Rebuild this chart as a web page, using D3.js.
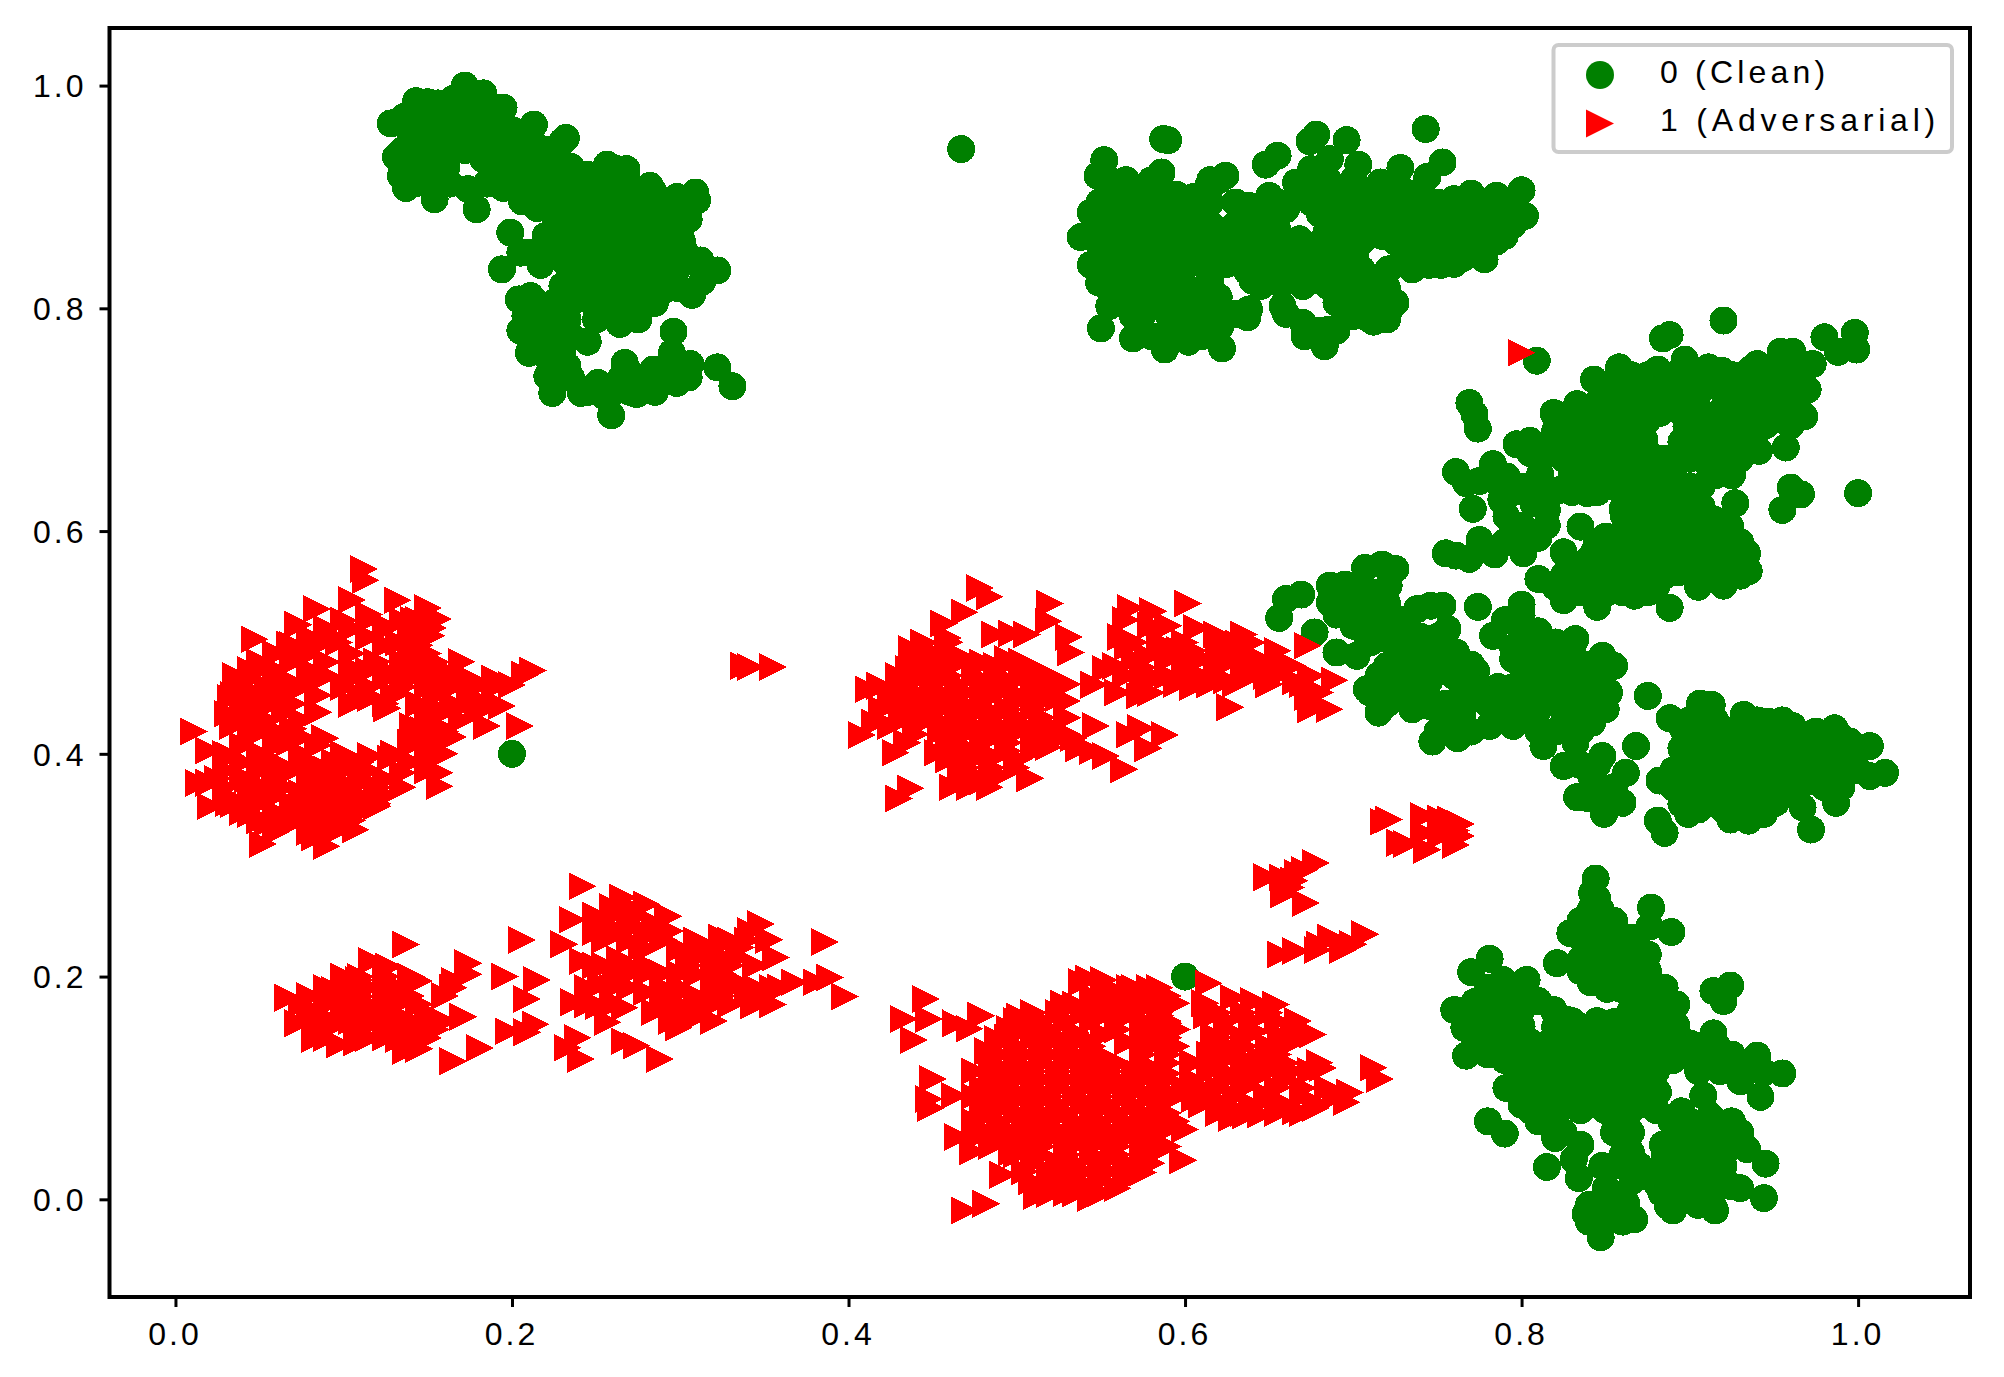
<!DOCTYPE html>
<html><head><meta charset="utf-8">
<script src="https://cdn.jsdelivr.net/npm/d3@7"></script>
<style>html,body{margin:0;padding:0;background:#fff}svg{display:block}</style>
</head><body><svg id="c" width="2004" height="1377"></svg>
<script>
const xTicks=[0,0.2,0.4,0.6,0.8,1.0];
const yTicks=[0,0.2,0.4,0.6,0.8,1.0];
const legendLabels=["0 (Clean)","1 (Adversarial)"];

const cleanTopLeft=[[.128,.966],[.143,.986],[.156,.984],[.172,1.0],[.183,.993],[.195,.980],[.213,.965],[.232,.953],[.230,.950],[.131,.936],[.134,.919],[.137,.908],[.154,.898],[.174,.907],[.179,.889],[.146,.964],[.156,.958],[.165,.972],[.175,.975],[.185,.964],[.199,.955],[.146,.940],[.156,.934],[.163,.949],[.175,.952],[.195,.928],[.205,.949],[.211,.934],[.225,.931],[.183,.934],[.195,.908],[.206,.896],
[.2565,.929],[.268,.923],[.251,.916],[.284,.905],[.298,.9],[.309,.904],[.31,.897],[.300,.877],[.303,.842],[.314,.835],[.322,.834],[.313,.824],[.307,.812],[.289,.815],[.283,.806],[.264,.786],[.199,.868],[.194,.835],[.217,.839],[.233,.907],
[.241,.902],[.262,.898],[.281,.901],[.231,.881],[.252,.878],[.272,.883],[.291,.879],[.222,.861],[.243,.858],[.261,.862],[.283,.857],[.301,.860],[.232,.841],[.252,.838],[.271,.842],[.292,.839],[.312,.843],[.241,.822],[.262,.819],[.281,.823],[.299,.818],[.253,.803],[.272,.799],
[.204,.808],[.211,.811],[.208,.793],[.205,.780],[.211,.767],[.219,.759],[.233,.790],[.245,.77],[.233,.748],[.221,.739],[.224,.724],[.241,.724],[.251,.733],[.259,.704],[.267,.751],[.274,.723],[.284,.745],[.298,.733],[.296,.779],[.295,.760],[.306,.75],[.322,.747],[.331,.73],[.255,.721],[.222,.785],[.225,.768]];
const cleanTopMiddle=[[.467,.943],[.538,.864],[.552,.933],[.548,.919],[.544,.886],[.549,.895],[.544,.839],[.549,.823],[.555,.802],[.550,.782],[.569,.773],[.588,.763],[.602,.770],[.622,.764],[.638,.799],[.637,.792],[.587,.952],[.590,.951],[.586,.922],[.595,.902],[.614,.911],[.624,.919],[.572,.908],[.638,.892],[.650,.901],[.648,.929],[.655,.937],[.678,.956],[.674,.95],[.696,.951],[.703,.929],[.675,.925],[.666,.913],[.686,.934],[.716,.913],[.728,.926],[.743,.961],[.753,.931],[.744,.918],[.719,.883],[.717,.865],[.700,.883],[.734,.892],[.751,.890],[.760,.898],[.770,.903],[.785,.901],[.800,.906],[.802,.883],[.790,.865],[.778,.844],[.745,.839],[.752,.839],[.734,.850],[.744,.868],[.764,.874],[.779,.877],[.754,.856],[.769,.862],[.742,.883],
[.701,.848],[.721,.835],[.720,.818],[.722,.800],[.712,.788],[.700,.793],[.690,.805],[.704,.817],[.692,.820],[.710,.826],[.683,.766],[.671,.775],[.686,.781],[.658,.802],[.670,.787],[.670,.820],[.653,.824],[.637,.833],[.678,.829],[.668,.847],[.645,.847],[.654,.862],[.668,.862],[.684,.868],[.645,.874],[.631,.862],
[.615,.826],[.614,.796],[.621,.784],[.601,.793],[.585,.802],[.569,.793],[.595,.823],[.575,.826],[.561,.826],[.585,.847],[.561,.847],[.573,.868],[.560,.874],[.556,.862],[.589,.868],[.605,.862],[.621,.868],[.569,.889],[.585,.892],[.609,.889],[.660,.889],[.675,.895],[.690,.900],[.809,.753]];
const cleanUpperRight=[[.884,.773],[.888,.776],[.920,.789],[.998,.778],[.980,.774],[.999,.763],[.988,.761],[.954,.761],[.961,.761],[.973,.750],[.970,.727],[.968,.703],[.936,.745],[.919,.744],[.911,.747],[.897,.754],[.881,.745],[.858,.747],[.858,.742],[.843,.736],[.833,.714],[.819,.706],[.769,.715],[.772,.705],[.774,.692],[.797,.678],[.805,.681],[.761,.653],[.767,.643],[.783,.660],[.791,.649],[.771,.620],[.788,.628],[.791,.613],[.807,.625],[.815,.619],[.811,.651],[.775,.592],[.755,.580],[.761,.578],[.769,.575],[.784,.579],[.801,.580],[.810,.594],[.835,.604],[.810,.557],[.825,.538],[.845,.532],[.867,.542],[.874,.554],[.888,.531],[.893,.563],[.910,.558],[.920,.551],[.935,.564],[.934,.580],[.924,.604],[.927,.625],[.907,.640],[.907,.622],[.924,.652],[.941,.672],[.957,.675],[.960,.639],[.966,.633],[.955,.619],[1.0,.634],
[.829,.688],[.847,.685],[.863,.682],[.873,.682],[.833,.664],[.849,.664],[.863,.658],[.823,.673],[.823,.637],[.839,.634],[.882,.658],[.888,.637],[.878,.628],[.861,.613],[.878,.610],[.892,.616],[.906,.595],[.859,.592],[.843,.581],[.825,.581],[.835,.560],[.851,.556],[.863,.574],[.878,.574],[.894,.581],[.914,.574],[.904,.571],[.851,.545],[.835,.545],[.878,.592],[.890,.593],
[.882,.706],[.898,.718],[.910,.730],[.928,.724],[.942,.730],[.958,.739],[.964,.718],[.954,.703],[.938,.703],[.918,.703],[.898,.694],[.908,.679],[.928,.679],[.908,.664],[.859,.718],[.871,.727],[.847,.718],[.874,.712],[.882,.736],[.938,.682],[.952,.718],[.828,.700],[.840,.705]];
const cleanMiddleRight=[[.656,.522],[.660,.539],[.669,.543],[.686,.551],[.695,.552],[.707,.567],[.717,.570],[.725,.566],[.721,.551],[.686,.536],[.705,.545],[.710,.530],[.677,.509],[.690,.491],[.707,.509],[.720,.503],[.702,.488],[.708,.458],[.715,.437],[.728,.452],[.720,.479],[.720,.464],
[.738,.530],[.746,.533],[.753,.533],[.756,.512],[.774,.532],[.800,.534],[.800,.524],[.783,.506],[.805,.509],[.747,.494],[.761,.491],[.773,.474],[.786,.460],[.747,.473],[.745,.443],[.747,.411],[.762,.414],[.755,.431],[.765,.458],[.781,.425],[.795,.425],[.800,.440],
[.795,.485],[.805,.473],[.815,.488],[.832,.503],[.820,.476],[.830,.482],[.807,.497],[.848,.488],[.855,.479],[.848,.474],[.852,.455],[.842,.428],[.832,.449],[.820,.449],[.807,.434],[.815,.419],[.813,.407],[.832,.410],[.825,.428],
[.875,.452],[.868,.407],[.825,.389],[.848,.398],[.862,.383],[.833,.361],[.849,.346],[.860,.356],[.842,.377],[.882,.376],[.881,.340],[.885,.329],[.899,.346],[.924,.341],[.944,.346],[.951,.356],[.888,.432],[.896,.422],[.906,.445],[.913,.444],[.932,.435],[.934,.425],[.946,.429],[.961,.425],[.972,.417],[.986,.423],[.995,.411],[1.007,.407],[1.016,.383],[1.007,.380],[.977,.377],[.960,.392],[.995,.386],[.987,.356],[.967,.352],[.972,.332],[.900,.392],[.910,.413],[.915,.380],[.932,.392],[.945,.398],[.932,.368],[.950,.368],[.902,.365],[.915,.359],[.917,.425],[.927,.407],[.970,.404]];
const cleanBottomRight=[[.6,.2],[.2,.4],[.844,.288],[.842,.275],[.841,.260],[.838,.250],[.829,.239],[.847,.260],[.847,.245],[.877,.262],[.876,.245],[.889,.240],[.781,.216],[.770,.204],[.821,.212],[.803,.197],[.772,.177],[.760,.170],[.766,.154],[.767,.129],[.775,.141],[.789,.197],[.791,.177],[.872,.220],[.864,.226],[.855,.227],[.839,.221],[.855,.205],[.841,.195],[.851,.189],[.859,.189],[.876,.185],[.892,.175],[.892,.156],[.914,.187],[.924,.192],[.920,.178],[.914,.149],[.916,.138],[.940,.129],[.918,.115],[.930,.106],[.942,.092],[.955,.113],[.944,.114],[.900,.129],[.780,.070],[.790,.059],[.815,.029],[.825,.060],[.835,.049],[.834,.019],[.831,.036],[.848,.030],[.865,.042],[.866,.017],[.838,-.013],[.847,-.034],[.851,-.009],[.867,-.018],[.862,-.003],[.853,.006],
[.791,.100],[.804,.091],[.813,.076],[.791,.126],[.805,.141],[.805,.120],[.817,.108],[.795,.150],[.819,.170],[.817,.141],[.829,.135],[.827,.161],[.841,.155],[.855,.159],[.868,.165],[.880,.156],[.872,.138],[.857,.138],[.843,.129],[.857,.117],[.872,.114],[.884,.138],[.881,.096],[.866,.082],[.835,.094],[.849,.102],[.855,.084],[.856,.066],[.864,.096],
[.908,.093],[.895,.079],[.920,.067],[.912,.075],[.889,.070],[.884,.049],[.934,.045],[.945,.032],[.944,.001],[.914,-.007],[.899,.002],[.887,-.006],[.883,.006],[.894,.042],[.910,.045],[.918,.021],[.902,.021],[.888,.024],[.906,.006],[.924,.012],[.914,.057],[.900,.060],[.872,.021]];

const cleanDenseRows=[
[.988,[.165]],[.985,[.150,.178]],[.972,[.136,.150,.162,.178,.192]],[.955,[.14,.152,.167,.181,.193,.208]],[.942,[.135,.172,.187,.222]],[.927,[.14,.148,.161,.204,.218,.235]],[.912,[.142,.15,.163,.185,.205,.215,.222]],
[.925,[.256,.262,.268]],[.91,[.24,.245,.258,.27,.282]],[.895,[.23,.235,.248,.26,.272,.285,.297]],[.88,[.228,.242,.255,.268,.282,.295,.305]],[.865,[.22,.225,.238,.25,.262,.275,.288,.3]],[.85,[.205,.21,.228,.24,.252,.265,.278,.29,.303]],[.835,[.235,.248,.26,.272,.285,.298]],[.82,[.23,.242,.255,.268,.28,.293]],[.805,[.215,.225,.235,.248,.26,.272,.285]],[.79,[.215,.228,.25,.262,.275]],[.775,[.215,.228,.235]],[.76,[.21,.225,.23]],
[.738,[.235,.265,.275,.29,.298,.305]],[.725,[.245,.26,.27,.285]],
[.90,[.562,.575,.59,.605]],[.885,[.552,.565,.578,.592,.605,.645,.655,.68,.69,.705,.745,.765,.775,.785,.795]],[.87,[.545,.558,.572,.585,.598,.61,.625,.64,.655,.69,.705,.755]],[.855,[.55,.562,.575,.59,.605,.62,.635,.65,.665,.68,.745,.76,.775]],[.84,[.555,.568,.58,.595,.61,.625,.64,.655,.67,.76]],[.825,[.56,.572,.585,.597,.615,.64,.66,.675,.70]],[.81,[.56,.572,.585,.597,.61,.62,.70,.71]],[.795,[.575,.59,.605,.615,.63,.66,.695,.705,.715]],[.78,[.575,.59,.605,.615,.68,.69]],[.915,[.685,.70]],[.905,[.67,.68,.70,.71,.72,.73,.74]],
[.74,[.865,.875,.89,.905,.925,.95,.965]],[.725,[.85,.862,.885,.9,.92,.935,.955,.96]],[.71,[.84,.855,.865,.878,.89,.905,.92,.93,.945,.958]],[.695,[.825,.835,.86,.87,.9,.915,.93,.945,.96]],[.68,[.82,.835,.855,.865,.895,.91,.92,.935]],[.665,[.81,.825,.84,.855,.865,.885,.9,.915,.93]],[.65,[.83,.845,.86,.87,.885,.915,.925]],[.635,[.795,.815,.83,.845,.86,.875,.895]],[.645,[.775,.785]],[.62,[.86,.875,.89]],[.605,[.80,.815,.865,.88,.895,.91]],[.59,[.79,.80,.845,.86,.875,.89,.915,.93]],[.575,[.84,.85,.87,.885,.9,.92,.93]],[.56,[.825,.84,.86,.875,.885,.905,.93]],[.545,[.825,.845,.86,.875]],
[.535,[.70,.72]],[.525,[.69,.71]],[.515,[.70]],[.50,[.71,.735,.815,.82]],[.485,[.725,.74]],[.47,[.715,.73,.76,.815,.83]],[.455,[.71,.82,.84]],[.445,[.72,.755,.78,.84]],[.43,[.76,.765,.79,.80,.83]],[.42,[.75,.81,.835]],[.51,[.80,.81]],[.39,[.835,.845]],[.37,[.855]],[.36,[.84,.85]],
[.43,[.90,.915,.94,.955]],[.415,[.90,.92,.935,.95,.965,.98,.99]],[.40,[.905,.92,.935,.95,.96,.975,.985,.99]],[.385,[.89,.905,.92,.94,.955,.97,.985,1.0]],[.37,[.89,.905,.92,.94,.96,.98,.99]],[.355,[.895,.91,.925,.94]],[.34,[.935]],
[.27,[.845]],[.25,[.835,.845,.855]],[.235,[.835,.85,.865]],[.22,[.845,.875]],[.205,[.835,.85,.865,.875]],[.19,[.78,.79,.865,.885]],[.178,[.78,.80,.81,.87,.885]],[.16,[.775,.785,.83,.845,.86,.875,.89]],[.145,[.78,.795,.83,.845,.865,.88,.89]],[.13,[.78,.80,.815,.83,.85,.865,.88,.895,.91,.925]],[.115,[.80,.815,.83,.85,.865,.88,.905,.93]],[.10,[.80,.815,.83,.855,.87]],[.085,[.80,.815,.825,.845,.86,.875]],[.07,[.81,.82,.86,.90,.91,.925]],[.055,[.82,.86,.89,.905,.925]],[.04,[.86,.885,.90,.92]],[.025,[.895,.91]],[.01,[.89,.915,.93,.85]],[-.005,[.905,.84]],[-.02,[.84,.85,.86]],
[.98,[.17,.19]],[.96,[.16,.175,.2]],[.945,[.145,.16,.178,.2,.215]],[.92,[.19,.21,.225,.235,.245]],[.905,[.22,.225,.235]],[.89,[.215,.22]],
[.915,[.555,.565,.58,.615,.62]],[.895,[.60,.615,.63,.655,.72,.735,.75,.765,.775,.79]],[.875,[.615,.63,.65,.695,.71,.725,.735,.75,.77,.785,.795]],[.86,[.69,.705,.725,.75,.765,.785]],[.845,[.685,.73,.765]],[.835,[.69,.705,.735,.655,.665]],[.82,[.60,.645,.685,.71,.715]],[.805,[.715,.725]],[.79,[.71,.72]],[.775,[.58,.60,.61]],
[.75,[.96,.94]],[.74,[.92,.94,.95,.96]],[.73,[.87,.895,.91,.93,.945]],[.715,[.845,.86,.87,.895,.935,.95]],[.70,[.83,.855,.875,.905,.925,.94,.955]],[.69,[.82,.84,.855,.905,.92,.935]],[.67,[.805,.82,.83,.845,.86,.875,.905,.92]],[.655,[.84,.855,.865,.89,.92]],[.64,[.80,.84,.855,.87,.885,.90]],[.625,[.87,.885,.90]],[.61,[.87,.885,.90,.915]],[.595,[.85,.865,.885,.90,.925]],[.58,[.845,.86,.87,.89,.905,.925]],[.565,[.83,.845,.855,.87,.88,.895,.915,.925]],[.55,[.82,.835,.85,.87,.88,.905]],
[.545,[.70,.715]],[.53,[.695,.70,.715]],[.52,[.70,.72,.73,.795,.79]],[.505,[.73,.74,.75]],[.495,[.73,.75,.735,.795,.82,.83]],[.48,[.735,.76,.77,.80,.81,.84]],[.465,[.735,.745]],[.46,[.795,.80,.81,.825,.845]],[.455,[.735,.775]],[.44,[.735,.765,.79,.80,.81,.825,.85]],[.42,[.755,.77,.82,.905,.925,.955,.975]],
[.405,[.895,.91,.945,.965,.98,1.0]],[.39,[.90,.915,.93,.95,.965,.98,.99]],[.375,[.90,.93,.945,.97]],[.36,[.90,.92,.935,.945]],[.35,[.93,.92,.905]],
[.24,[.84,.855]],[.225,[.84,.85]],[.215,[.835,.85,.86]],[.20,[.84,.855,.87]],[.17,[.775,.79,.80,.865,.88]],[.155,[.785,.80,.82,.835,.85,.87]],[.14,[.785,.80,.825,.84,.85,.87,.885,.90]],[.125,[.79,.81,.825,.84,.87,.89,.92]],[.11,[.81,.825,.84,.86,.875]],[.095,[.81,.825,.84,.865,.875]],[.08,[.805,.82,.835,.85,.865,.88]],[.06,[.855,.865,.90,.915,.93]],[.045,[.89,.905]],[.03,[.86,.87,.885,.90,.92]],[.015,[.88,.90,.92]],[.0,[.91]],[-.01,[.89,.915]]];

const advMiddleLeft=[[.112,.566],[.113,.556],[.105,.538],[.132,.538],[.150,.531],[.156,.521],[.153,.513],[.152,.506],[.084,.530],[.073,.516],[.047,.503],[.068,.498],[.094,.505],[.133,.500],[.045,.475],[.036,.470],[.0715,.487],[.0905,.470],[.107,.476],[.135,.476],[.116,.450],[.126,.441],[.168,.468],[.181,.462],[.2,.462],[.208,.471],[.2125,.475],[.175,.446],[.194,.443],[.185,.425],[.205,.425],[.011,.420],[.031,.436],[.033,.450],[.034,.425],[.089,.414],[.140,.410],[.153,.407],[.157,.383],[.157,.371],[.116,.398],[.128,.396],[.135,.383],[.103,.392],[.020,.403],[.014,.374],[.020,.374],[.021,.353],[.052,.319],[.074,.341],[.083,.325],[.090,.317],[.107,.332],[.120,.353],[.109,.362],[.032,.356],[.041,.353],[.045,.346],[.055,.338],[.033,.398],[.043,.377],[.053,.398],[.062,.419],[.046,.427],[.059,.446],[.043,.452],[.071,.458],[.061,.470],[.068,.410],[.076,.392],[.090,.386],[.059,.386],[.075,.365],[.055,.368],[.084,.359],[.094,.371],[.072,.344],[.100,.353],[.085,.344],[.141,.425],[.148,.421],[.160,.420],[.105,.512],[.097,.500],[.115,.525],[.125,.515],[.142,.520],[.146,.478],[.156,.460],[.338,.479],[.342,.478],[.355,.478]];
const advMiddleCenter=[[.478,.549],[.484,.541],[.469,.527],[.457,.517],[.520,.535],[.519,.519],[.487,.507],[.497,.508],[.506,.507],[.531,.505],[.532,.491],[.438,.494],[.450,.491],[.459,.504],[.436,.476],[.412,.458],[.419,.461],[.432,.462],[.466,.482],[.480,.482],[.488,.479],[.503,.483],[.527,.462],[.525,.450],[.408,.417],[.416,.428],[.428,.401],[.453,.401],[.471,.405],[.501,.420],[.501,.395],[.508,.378],[.467,.380],[.462,.370],[.472,.370],[.484,.370],[.430,.360],[.437,.369],[.519,.406],[.522,.414],[.534,.414],[.537,.405],[.547,.425],[.553,.398],[.564,.386],[.567,.417],[.574,.423],[.588,.417],[.578,.405],[.459,.451],[.445,.448],[.432,.432],[.465,.435],[.484,.460],[.500,.454],[.512,.466],[.488,.436],[.445,.429],[.455,.420],[.473,.420],[.484,.417],[.439,.448],[.455,.476],
[.568,.531],[.581,.528],[.602,.535],[.565,.520],[.562,.505],[.566,.496],[.607,.513],[.619,.507],[.635,.507],[.632,.499],[.597,.493],[.553,.476],[.559,.479],[.546,.462],[.573,.452],[.600,.473],[.605,.460],[.625,.466],[.627,.442],[.645,.476],[.649,.470],[.664,.479],[.673,.497],[.673,.451],[.666,.465],[.689,.466],[.686,.440],[.679,.445],[.578,.488],[.602,.488],[.619,.479],[.637,.482],
[.649,.289],[.658,.289],[.667,.293],[.671,.296],[.678,.302],[.665,.286],[.663,.280],[.659,.274],[.672,.266],[.657,.220],[.666,.223],[.679,.224],[.680,.229],[.687,.235],[.694,.224],[.700,.229],[.707,.238],[.718,.339],[.721,.341],[.728,.320],[.732,.319],[.742,.344],[.752,.342],[.758,.341],[.764,.337],[.764,.326],[.761,.331],[.744,.314],[.761,.318],[.752,.326],[.742,.329],[.8,.76]];
const advBottomLeft=[[.137,.229],[.117,.214],[.127,.209],[.100,.200],[.109,.197],[.095,.188],[.067,.181],[.073,.158],[.083,.144],[.086,.166],[.098,.139],[.108,.141],[.133,.144],[.137,.133],[.145,.135],[.165,.124],[.181,.136],[.145,.196],[.166,.196],[.174,.212],[.174,.202],[.196,.200],[.171,.164],[.198,.151],[.209,.150],[.214,.157],[.209,.180],[.215,.197],[.206,.233],[.242,.281],[.236,.251],[.266,.271],[.280,.265],[.293,.254],[.294,.241],[.231,.229],[.242,.214],[.264,.216],[.262,.202],[.253,.193],[.237,.177],[.252,.174],[.257,.159],[.267,.172],[.233,.136],[.239,.145],[.241,.126],[.267,.142],[.274,.138],[.288,.126],[.280,.186],[.285,.168],[.299,.154],[.309,.163],[.312,.177],[.290,.203],[.310,.202],[.325,.235],[.342,.241],[.348,.247],[.314,.224],[.336,.226],[.357,.217],[.353,.233],[.386,.231],[.344,.174],[.336,.194],[.320,.200],[.368,.195],[.381,.195],[.389,.199],[.398,.182],[.355,.190],[.277,.227],[.272,.245],[.290,.233],[.105,.177],[.117,.171],[.128,.161],[.094,.158],[.114,.156],[.100,.186],[.135,.177],[.126,.195],[.151,.158],[.142,.150]];
const advBottomCenter=[[.446,.180],[.433,.162],[.439,.143],[.448,.162],[.464,.158],[.472,.153],[.479,.165],[.450,.108],[.448,.090],[.449,.082],[.463,.093],[.465,.056],[.474,.043],[.469,-.010],[.482,-.004],[.492,.022],[.509,.016],[.512,.003],[.530,.006],[.544,.001],[.599,.035],[.575,.024],[.551,.027],[.528,.024],[.497,.042],[.483,.133],[.489,.144],[.496,.153],[.502,.164],[.511,.163],[.528,.176],[.539,.195],[.543,.198],[.552,.197],[.567,.190],[.579,.190],[.595,.176],[.545,.176],[.555,.180],[.552,.148],[.566,.141],[.582,.141],[.560,.170],[.572,.170],[.585,.165],[.590,.158],[.491,.117],[.505,.114],[.486,.096],[.480,.081],[.500,.093],[.507,.069],[.526,.108],[.540,.120],[.554,.120],[.573,.113],[.590,.113],[.566,.096],[.546,.084],[.526,.078],[.487,.057],[.510,.048],[.534,.048],[.558,.048],[.584,.048],[.582,.066],[.594,.066],[.592,.090],[.606,.090],[.566,.066],[.546,.060],[.514,.096],[.520,.130],[.515,.145],[.535,.150],[.614,.194],[.612,.176],[.613,.165],[.629,.181],[.641,.178],[.654,.175],[.667,.160],[.676,.148],[.617,.147],[.629,.135],[.645,.126],[.625,.114],[.612,.099],[.649,.114],[.664,.115],[.682,.118],[.649,.090],[.666,.079],[.678,.082],[.696,.087],[.698,.096],[.712,.118],[.716,.108],[.623,.081],[.628,.073],[.636,.075],[.645,.076],[.641,.150],[.657,.143]];

const advDenseRows=[
[.52,[.10,.115,.135,.145]],[.505,[.08,.115,.14]],[.49,[.06,.08,.105,.14,.15]],[.475,[.05,.06,.08,.115,.125,.15,.16]],[.46,[.04,.055,.075,.10,.115,.135,.15,.165,.19]],[.445,[.04,.05,.07,.105,.125,.145,.165,.185]],[.43,[.04,.055,.075,.15,.17]],[.415,[.045,.06,.075,.15,.165]],[.40,[.03,.05,.075,.10,.13,.15,.16]],[.385,[.03,.05,.07,.085,.10,.115,.15]],[.37,[.03,.045,.065,.085,.105,.12,.135]],[.355,[.035,.05,.07,.09,.105,.12]],[.34,[.05,.065,.09,.105]],[.33,[.06,.08,.095]],
[.50,[.46,.445,.57,.585,.60,.625,.64]],[.485,[.44,.455,.47,.495,.57,.59,.61,.625,.645,.655]],[.47,[.43,.445,.46,.475,.49,.505,.52,.565,.58,.59,.61,.64,.655,.675]],[.455,[.425,.44,.455,.47,.49,.51,.52,.56,.58,.68]],[.44,[.42,.44,.455,.47,.48,.495,.51,.675]],[.425,[.425,.44,.46,.475,.49,.505,.52]],[.41,[.435,.46,.48,.495,.51]],[.395,[.46,.475,.485]],[.38,[.475,.49]],[.515,[.58,.59]],
[.19,[.09,.105,.115,.13,.165,.29,.30,.32,.33,.345,.36,.245,.26,.27]],[.175,[.075,.09,.115,.125,.145,.29,.30,.32,.33,.355,.245,.26]],[.16,[.085,.105,.12,.14,.16,.295,.32]],[.145,[.09,.115,.125,.15]],[.21,[.305,.32,.33,.345,.25,.255,.27,.28]],[.225,[.28,.30,.32]],[.24,[.25,.265,.28,.285]],[.255,[.25,.26,.275]],
[.19,[.555,.57,.585]],[.175,[.535,.55,.565,.58,.59]],[.16,[.50,.515,.53,.545,.56,.575,.59,.625,.64,.655]],[.145,[.495,.51,.525,.54,.575,.59,.62,.635,.66,.67]],[.13,[.49,.505,.52,.535,.55,.575,.59,.615,.63,.655]],[.115,[.475,.495,.51,.525,.54,.555,.57,.585,.615,.635,.65,.675]],[.10,[.48,.495,.51,.525,.54,.555,.57,.585,.60,.62,.635,.655,.67,.685]],[.085,[.48,.495,.51,.525,.54,.555,.57,.585,.61,.625,.64,.66,.68]],[.07,[.475,.49,.505,.52,.535,.55,.565,.58,.595]],[.055,[.475,.49,.505,.52,.535,.55,.565,.58]],[.04,[.50,.515,.53,.545,.56,.575]],[.025,[.505,.52,.54,.555,.565]],[.01,[.515,.53,.545,.56]],
[.5125,[.09,.105,.125,.14,.15]],[.4975,[.07,.085,.125,.145]],[.4825,[.05,.07,.09,.12,.135,.155,.17]],[.4675,[.045,.065,.085,.105,.125,.14,.16,.175,.19]],[.4525,[.035,.05,.065,.085,.11,.13,.155,.175]],[.4375,[.045,.065,.085,.155,.16,.18]],[.4225,[.05,.07,.145,.16]],[.4075,[.04,.06,.085,.14,.155]],[.3925,[.04,.06,.08,.095,.11,.14,.15]],[.3775,[.025,.04,.06,.08,.095,.11,.125]],[.3625,[.03,.045,.06,.08,.095,.11,.125]],[.3475,[.04,.06,.08,.095,.11]],[.335,[.065,.085,.10]],
[.4925,[.445,.46,.585,.605,.62,.635,.655]],[.4775,[.445,.46,.475,.49,.51,.575,.6,.62,.635,.66]],[.4625,[.435,.45,.465,.48,.495,.515,.53,.575,.595,.615,.63,.65,.67]],[.4475,[.43,.45,.465,.48,.5,.515,.53]],[.4325,[.435,.45,.47,.485,.5,.515,.53]],[.4175,[.44,.465,.49,.51,.53]],[.4025,[.465,.48,.495,.51,.545]],[.3875,[.47,.485,.50]],[.375,[.48]],
[.1825,[.08,.1,.11,.125,.14,.16,.295,.31,.325,.34,.35]],[.1675,[.08,.1,.11,.13,.15,.30,.31]],[.1525,[.09,.11,.13,.145,.155]],[.2,[.11,.125,.14]],[.2175,[.31,.325,.335]],[.2325,[.255,.27,.29,.31,.33,.34]],[.2475,[.255,.27,.285]],[.2625,[.26,.27]],[.2025,[.27,.28,.30,.325]],
[.1825,[.545,.56,.575,.59]],[.1675,[.51,.525,.54,.555,.57,.585,.62,.635,.65]],[.1525,[.505,.52,.56,.58,.595,.625,.64,.665]],[.1375,[.50,.515,.53,.545,.58,.595,.62,.635,.65,.66]],[.1225,[.485,.50,.515,.53,.545,.56,.575,.59,.605,.62,.64,.66,.68]],[.1075,[.485,.50,.515,.53,.545,.56,.575,.59,.605,.625,.64,.66]],[.0925,[.475,.49,.505,.52,.535,.55,.565,.58,.595,.615,.63,.65,.67,.69]],[.0775,[.485,.50,.515,.53,.545,.56,.575,.59,.62,.635,.655,.67]],[.0625,[.48,.495,.51,.525,.54,.555,.57,.585,.60]],[.0475,[.485,.50,.515,.53,.545,.56,.575,.59]],[.0325,[.51,.525,.535,.55,.565,.58]],[.0175,[.52,.535,.55,.565]],[.005,[.52,.535,.55]]];

const expand=rows=>rows.flatMap(([py,xs])=>xs.map(px=>[px,py]));
const cleanPoints=[...cleanTopLeft,...cleanTopMiddle,...cleanUpperRight,...cleanMiddleRight,...cleanBottomRight,...expand(cleanDenseRows)];
const adversarialPoints=[...advMiddleLeft,...advMiddleCenter,...advBottomLeft,...advBottomCenter,...expand(advDenseRows)];

const svg=d3.select("#c");
const font="'Liberation Sans',Arial,sans-serif";
const x=d3.scaleLinear().domain([-0.0392,1.0665]).range([109.5,1970]);
const y=d3.scaleLinear().domain([-0.0877,1.0517]).range([1297,28]);
const R=14;
const triType={draw(ctx){ctx.moveTo(-R,-R);ctx.lineTo(R,0);ctx.lineTo(-R,R);ctx.closePath();}};
const tri=d3.symbol().type(triType)();

const marks=svg.append("g").attr("shape-rendering","crispEdges");
marks.append("g").selectAll("circle").data(cleanPoints).join("circle")
 .attr("cx",d=>x(d[0])).attr("cy",d=>y(d[1])).attr("r",R).attr("fill","#008000");
marks.append("g").selectAll("path").data(adversarialPoints).join("path")
 .attr("d",tri).attr("transform",d=>`translate(${x(d[0])},${y(d[1])})`).attr("fill","#ff0000");

const ax=svg.append("g").attr("transform","translate(0,1297)")
 .call(d3.axisBottom(x).tickValues(xTicks).tickFormat(d3.format(".1f")).tickSize(10).tickSizeOuter(0));
const ay=svg.append("g").attr("transform","translate(109.5,0)")
 .call(d3.axisLeft(y).tickValues(yTicks).tickFormat(d3.format(".1f")).tickSize(10).tickSizeOuter(0));
[ax,ay].forEach(g=>{g.select(".domain").remove();g.selectAll("line").attr("stroke","#000").attr("stroke-width",3);
 g.selectAll("text").attr("font-family",font).attr("font-size",32).attr("letter-spacing",3).attr("fill","#000");});
ax.selectAll("text").attr("dy",0).attr("dominant-baseline","hanging").attr("y",25).attr("x",-1);
ay.selectAll("text").attr("x",-23).attr("dy","0.35em");

svg.append("rect").attr("x",109.5).attr("y",28).attr("width",1860.5).attr("height",1269)
 .attr("fill","none").attr("stroke","#000").attr("stroke-width",4);

const lg=svg.append("g");
lg.append("rect").attr("x",1553.5).attr("y",45).attr("width",398.5).attr("height",107).attr("rx",5)
 .attr("fill","#fff").attr("fill-opacity",.8).attr("stroke","#ccc").attr("stroke-width",4);
lg.append("circle").attr("cx",1600).attr("cy",75).attr("r",R).attr("fill","#008000");
lg.append("path").attr("d",tri).attr("transform","translate(1600,123.5)").attr("fill","#ff0000");
lg.selectAll("text").data(legendLabels).join("text").attr("x",1660).attr("y",(d,i)=>[83,131][i])
 .attr("font-family",font).attr("font-size",32).attr("letter-spacing",(d,i)=>[4.2,4.8][i]).attr("fill","#000").text(d=>d);
</script></body></html>
